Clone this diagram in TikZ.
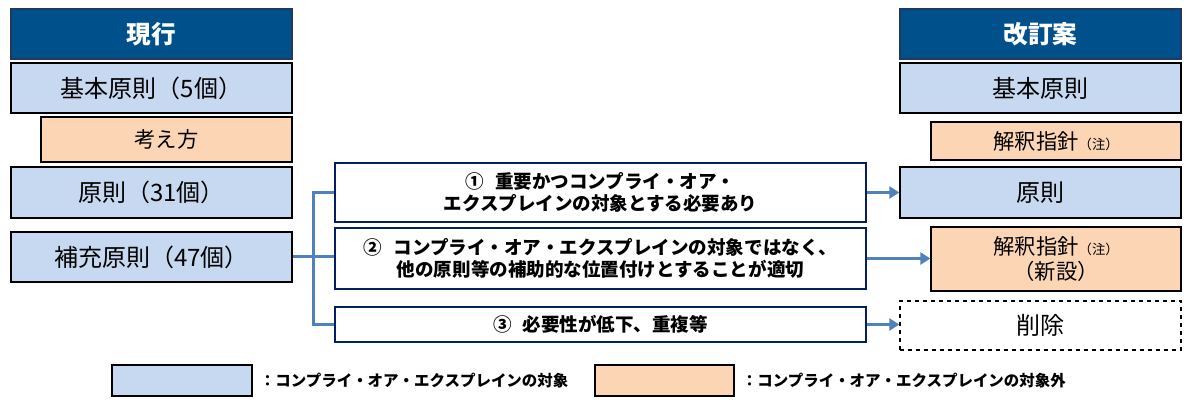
\documentclass[tikz,border=0pt]{standalone}
\usepackage{fontspec}
\setmainfont{Noto Sans CJK JP}
\usetikzlibrary{arrows.meta,positioning}

\definecolor{hdrblue}{RGB}{0,80,140}
\definecolor{hdrline}{RGB}{31,56,100}
\definecolor{subjblue}{RGB}{198,217,240}
\definecolor{outorange}{RGB}{252,213,181}
\definecolor{linkblue}{RGB}{79,129,189}
\definecolor{optline}{RGB}{0,32,96}
\newcommand{\notefont}{\fontsize{10}{12}\selectfont}

\begin{document}
\begin{tikzpicture}[x=0.75pt, y=-0.75pt,
      colbox/.style={draw, line width=1pt, inner sep=0pt, align=center,
        minimum width=210.75pt, font=\fontsize{18}{21}\selectfont},
      hdr/.style={colbox, draw=hdrline, fill=hdrblue, text=white,
        minimum height=37.5pt, font=\bfseries\fontsize{18.5}{21}\selectfont},
      subj/.style={colbox, fill=subjblue},
      aside/.style={colbox, fill=outorange, font=\fontsize{16}{19}\selectfont},
      opt/.style={draw=optline, line width=1pt, inner sep=0pt, align=center,
        minimum width=398.25pt, font=\bfseries\fontsize{13.9}{16.5}\selectfont},
      legtext/.style={inner sep=0pt, font=\bfseries\fontsize{11.6}{14}\selectfont},
      link/.style={linkblue, line width=2.25pt},
      flow/.style={link, -{Triangle[length=7.5pt,width=9pt]}}]
      \useasboundingbox (0,0) rectangle (1197,409);
      \node[hdr] (hdrL) at (151.5,34) {現行};
      \node[subj, minimum height=37.5pt] (kihonL) at (151.5,88) {基本原則（5個）};
      \node[aside, minimum width=188.25pt, minimum height=33.75pt] (kangaeL) at (166.5,139.5) {考え方};
      \node[subj, minimum height=38.25pt] (gensokuL) at (151.5,192.5) {原則（31個）};
      \node[subj, minimum height=37.5pt] (hojuL) at (151.5,257) {補充原則（47個）};
      \node[opt, minimum height=44.25pt] (opt1) at (600.5,192.5) {①\hspace{0.6em}重要かつコンプライ・オア・\\エクスプレインの対象とする必要あり};
      \node[opt, minimum height=45.75pt] (opt2) at (600.5,258.5) {②\hspace{0.6em}コンプライ・オア・エクスプレインの対象ではなく、\\他の原則等の補助的な位置付けとすることが適切};
      \node[opt, minimum height=26.25pt] (opt3) at (600.5,324.5) {③\hspace{0.6em}必要性が低下、重複等};
      \node[hdr] (hdrR) at (1040.5,34) {改訂案};
      \node[subj, minimum height=37.5pt] (kihonR) at (1040.5,88) {基本原則};
      \node[aside, minimum width=187.5pt, minimum height=28.5pt] (shishinR) at (1056,141) {解釈指針{\notefont（注）}};
      \node[subj, minimum height=38.25pt] (gensokuR) at (1040.5,192.5) {原則};
      \node[aside, minimum width=187.5pt, minimum height=48pt] (shishinNewR) at (1056,259) {解釈指針{\notefont（注）}\\（新設）};
      \node[colbox, dashed, minimum height=36.75pt] (sakujoR) at (1040.5,325.5) {削除};
      \node[subj, minimum width=105pt, minimum height=23.25pt] (legSubj) at (182,380.5) {};
      \node[legtext, right=5.25pt of legSubj] (legSubjText) {：コンプライ・オア・エクスプレインの対象};
      \node[aside, minimum width=104.25pt, minimum height=23.25pt] (legOut) at (664.5,380.5) {};
      \node[legtext, right=5.25pt of legOut] (legOutText) {：コンプライ・オア・エクスプレインの対象外};
      \coordinate (fork) at ([xshift=15.75pt]hojuL.east);
      \draw[link] (hojuL.east) -- (hojuL.east -| opt2.west);
      \draw[link] (opt1.west) -| (fork) |- (opt3.west);
      \draw[flow] (opt1.east) -- (gensokuR.west);
      \draw[flow] (opt2.east) -- (opt2.east -| shishinNewR.west);
      \draw[flow] (opt3.east) -- (opt3.east -| sakujoR.west);
    \end{tikzpicture}
\end{document}
